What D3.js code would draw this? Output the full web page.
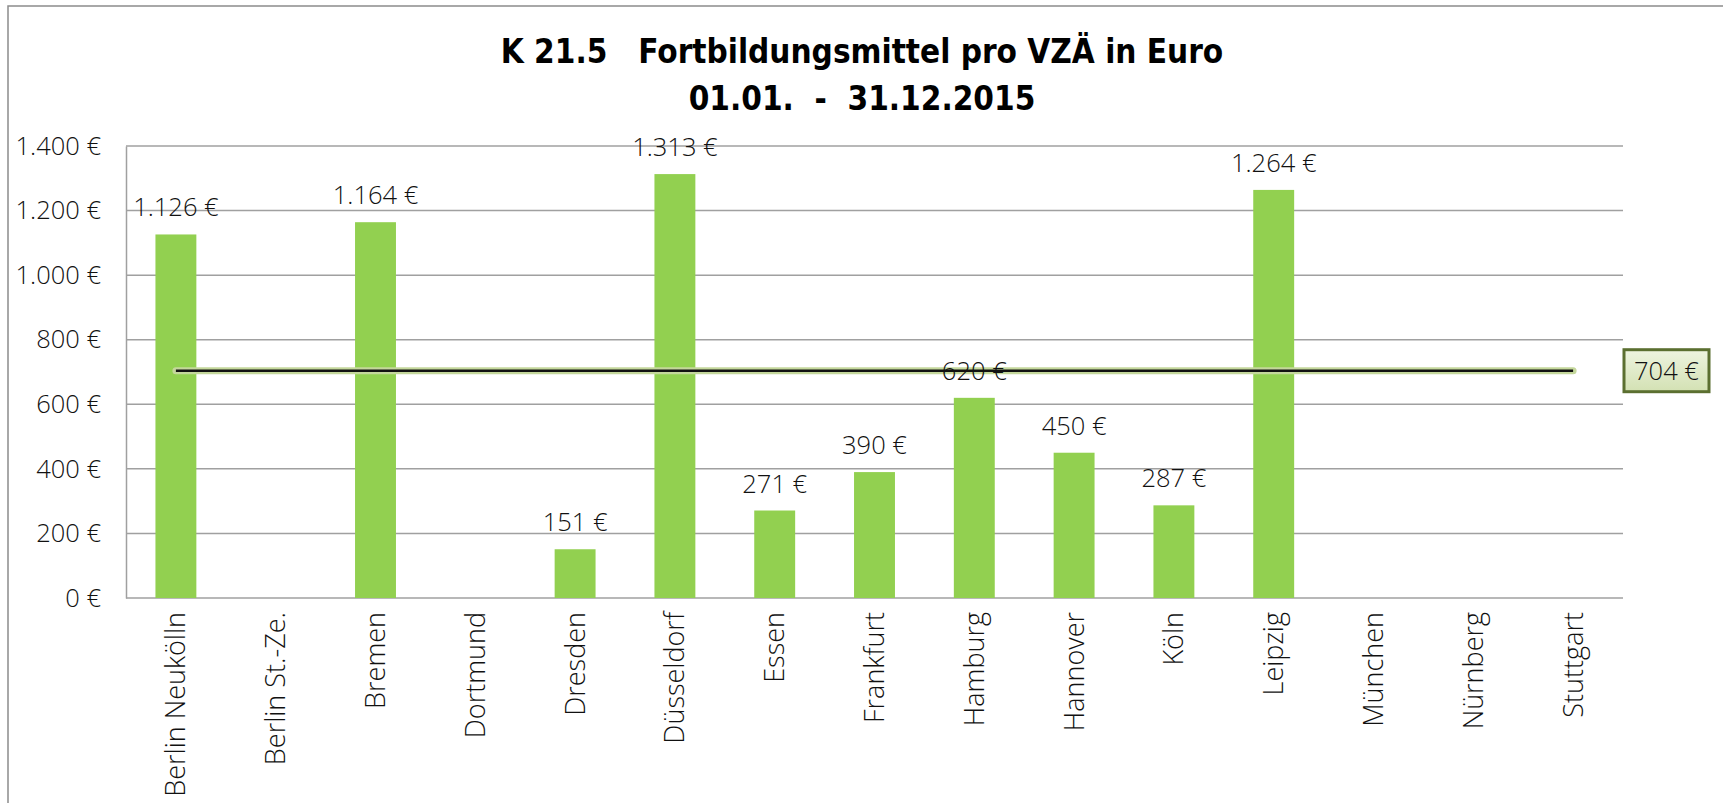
<!DOCTYPE html>
<html>
<head>
<meta charset="utf-8">
<script src="https://cdn.jsdelivr.net/npm/d3@7"></script>
<style>
    body { margin: 0; background: #fff; }
    .lbl { font-family: "Open Sans", "Lato", "DejaVu Sans", sans-serif; font-weight: 300; font-size: 25.5px; fill: #111; }
    .xlbl { font-size: 27px; }
    .title { font-family: "Liberation Sans Narrow", "DejaVu Sans Condensed", "DejaVu Sans", sans-serif; font-stretch: condensed; font-weight: bold; font-size: 33px; fill: #000; white-space: pre; }
</style>
</head>
<body>
<div id="graph_field"></div>
<script>
// Standorte (Kategorien) und Werte pro VZÄ, null = kein Wert
let locations = ["Berlin Neukölln", "Berlin St.-Ze.", "Bremen", "Dortmund", "Dresden", "Düsseldorf", "Essen",
    "Frankfurt", "Hamburg", "Hannover", "Köln", "Leipzig", "München", "Nürnberg", "Stuttgart"];
let values = [1126, null, 1164, null, 151, 1313, 271, 390, 620, 450, 287, 1264, null, null, null];
let average = 704;
let yTicks = [0, 200, 400, 600, 800, 1000, 1200, 1400];
let titleLines = ["K 21.5   Fortbildungsmittel pro VZÄ in Euro", "01.01.  -  31.12.2015"];

// german number format: 1.400 €
let de = d3.formatLocale({decimal: ",", thousands: ".", grouping: [3], currency: ["", " €"]});
let euro = de.format("$,.0f");

let margin = {top: 146, right: 100, bottom: 205, left: 126};
let width = 1497;
let height = 452;

let svg = d3.select("#graph_field")
    .append("svg")
    .attr("width", 1723)
    .attr("height", 803);

// outer chart frame (runs off the right and bottom edge)
svg.append("rect")
    .attr("x", 8)
    .attr("y", 6)
    .attr("width", 1800)
    .attr("height", 900)
    .attr("fill", "none")
    .attr("stroke", "#8c8c8c")
    .attr("stroke-width", 1.5);

// title
svg.selectAll(".title")
    .data(titleLines)
    .enter().append("text")
    .attr("class", "title")
    .attr("x", 862)
    .attr("y", function(d, i) { return 63 + i * 47; })
    .style("text-anchor", "middle")
    .text(function(d) { return d; });

let g = svg.append("g")
    .attr("transform", "translate(" + margin.left + "," + margin.top + ")");

let x = d3.scaleBand().domain(locations).range([0, width]).paddingInner(0.59).paddingOuter(0.295);
let y = d3.scaleLinear().domain([0, 1400]).range([height, 0]);

// gridlines
g.selectAll(".grid")
    .data(yTicks)
    .enter().append("line")
    .attr("x1", 0)
    .attr("x2", width)
    .attr("y1", function(d) { return y(d); })
    .attr("y2", function(d) { return y(d); })
    .attr("stroke", "#a0a0a0")
    .attr("stroke-width", 1.5);

// y axis
let yAxis = g.append("g")
    .call(d3.axisLeft(y).tickValues(yTicks).tickFormat(euro).tickSize(0).tickPadding(25));
yAxis.select(".domain").attr("stroke", "#a0a0a0").attr("stroke-width", 1.5);
yAxis.selectAll("text").attr("class", "lbl").attr("fill", null).attr("font-size", null).attr("font-family", null);

// x axis labels, rotated
let xAxis = g.append("g")
    .attr("transform", "translate(0," + height + ")")
    .call(d3.axisBottom(x).tickSize(0).tickPadding(0));
xAxis.select(".domain").remove();
xAxis.selectAll("text")
    .attr("class", "lbl xlbl")
    .attr("fill", null).attr("font-size", null).attr("font-family", null)
    .attr("transform", "rotate(-90)")
    .attr("x", -14)
    .attr("y", 0)
    .attr("dy", "0.35em")
    .style("text-anchor", "end");

let data = locations.map(function(d, i) { return {loc: d, value: values[i]}; })
    .filter(function(d) { return d.value != null; });

// bars
g.selectAll(".bar")
    .data(data)
    .enter().append("rect")
    .attr("x", function(d) { return x(d.loc); })
    .attr("width", x.bandwidth())
    .attr("y", function(d) { return y(d.value); })
    .attr("height", function(d) { return height - y(d.value); })
    .attr("fill", "#92d050");

// average line
let avgLine = d3.line()
    .x(function(d) { return x(d) + x.bandwidth() / 2; })
    .y(function() { return y(average); });
let ends = [locations[0], locations[locations.length - 1]];
g.append("path")
    .datum(ends)
    .attr("d", avgLine)
    .attr("stroke", "#c4d79b")
    .attr("stroke-width", 7)
    .attr("stroke-linecap", "round")
    .attr("fill", "none");
g.append("path")
    .datum(ends)
    .attr("d", avgLine)
    .attr("stroke", "#111")
    .attr("stroke-width", 2.5)
    .attr("fill", "none");

// value labels (on top of the line)
g.selectAll(".val")
    .data(data)
    .enter().append("text")
    .attr("class", "lbl")
    .attr("x", function(d) { return x(d.loc) + x.bandwidth() / 2; })
    .attr("y", function(d) { return y(d.value) - 18; })
    .style("text-anchor", "middle")
    .text(function(d) { return euro(d.value); });

// average label box
let grad = svg.append("defs").append("linearGradient")
    .attr("id", "boxfill")
    .attr("x1", 0).attr("y1", 0).attr("x2", 0).attr("y2", 1);
grad.append("stop").attr("offset", "0%").attr("stop-color", "#eef4e0");
grad.append("stop").attr("offset", "100%").attr("stop-color", "#d3e1b3");

let box = g.append("g")
    .attr("transform", "translate(" + (width + 1) + "," + y(average) + ")");
box.append("rect")
    .attr("x", 0)
    .attr("y", -21)
    .attr("width", 85)
    .attr("height", 42)
    .attr("fill", "url(#boxfill)")
    .attr("stroke", "#5b6f30")
    .attr("stroke-width", 3);
box.append("text")
    .attr("class", "lbl")
    .attr("x", 42.5)
    .attr("dy", "0.35em")
    .style("text-anchor", "middle")
    .text(euro(average));
</script>
</body>
</html>
